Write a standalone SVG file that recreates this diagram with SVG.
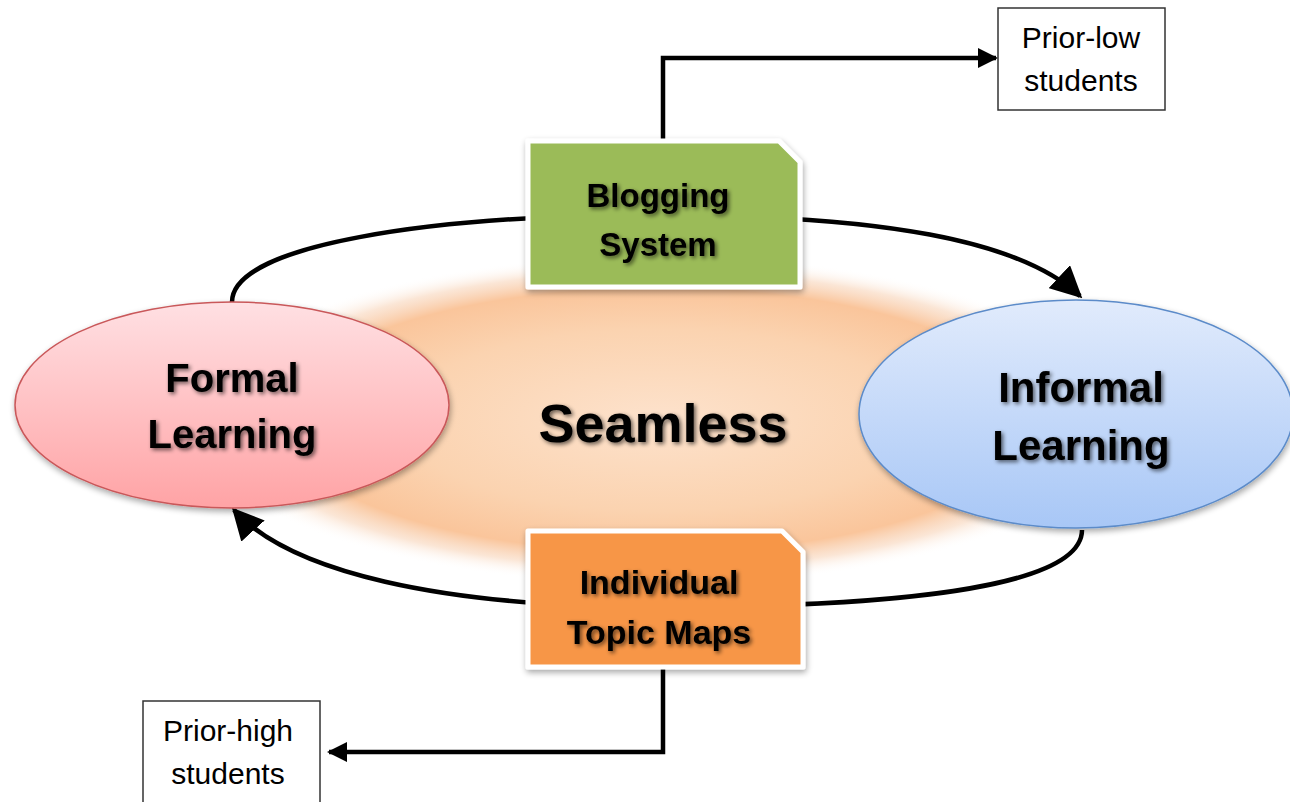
<svg xmlns="http://www.w3.org/2000/svg" width="1290" height="802" viewBox="0 0 1290 802">
<defs>
<style>
.lbl{font-family:"Liberation Sans","Arial",sans-serif;font-weight:bold;fill:#000;text-anchor:middle}
.sm{font-family:"Liberation Sans","Arial",sans-serif;fill:#000;text-anchor:middle;font-size:30px}
.conn{fill:none;stroke:#000;stroke-width:4.5}
.box{fill:#fff;stroke:#333;stroke-width:1.5}
</style>
<marker id="ah" viewBox="0 0 10 10" refX="9" refY="5" markerWidth="7" markerHeight="7" markerUnits="strokeWidth" orient="auto">
<path d="M0,0 L10,5 L0,10 Z" fill="#000"/>
</marker>
<marker id="ahs" viewBox="0 0 10 10" refX="9" refY="5" markerWidth="4.5" markerHeight="4.5" markerUnits="strokeWidth" orient="auto">
<path d="M0,0 L10,5 L0,10 Z" fill="#000"/>
</marker>
<radialGradient id="glow" cx="0.5" cy="0.5" r="0.5">
<stop offset="0" stop-color="#FDE2CC"/>
<stop offset="0.55" stop-color="#FBD3B0"/>
<stop offset="0.8" stop-color="#FAC59B"/>
<stop offset="0.9" stop-color="#F8D5BA" stop-opacity="0.6"/>
<stop offset="1" stop-color="#FFFFFF" stop-opacity="0"/>
</radialGradient>
<linearGradient id="pink" x1="0" y1="0" x2="0" y2="1">
<stop offset="0" stop-color="#FFE0E3"/>
<stop offset="1" stop-color="#FFA3A5"/>
</linearGradient>
<linearGradient id="blue" x1="0" y1="0" x2="0" y2="1">
<stop offset="0" stop-color="#E1EBFC"/>
<stop offset="1" stop-color="#A8C7F6"/>
</linearGradient>
<filter id="ts" x="-20%" y="-30%" width="140%" height="160%">
<feGaussianBlur in="SourceAlpha" stdDeviation="2"/>
<feOffset dx="2" dy="2" result="b"/>
<feComponentTransfer><feFuncA type="linear" slope="0.6"/></feComponentTransfer>
<feMerge><feMergeNode/><feMergeNode in="SourceGraphic"/></feMerge>
</filter>
<filter id="ds" x="-10%" y="-10%" width="120%" height="130%">
<feGaussianBlur in="SourceAlpha" stdDeviation="3"/>
<feOffset dx="1" dy="3"/>
<feComponentTransfer><feFuncA type="linear" slope="0.35"/></feComponentTransfer>
<feMerge><feMergeNode/><feMergeNode in="SourceGraphic"/></feMerge>
</filter>
</defs>
<rect width="1290" height="802" fill="#fff"/>
<ellipse id="glow-bg" cx="658" cy="420" rx="470" ry="165" fill="url(#glow)"/>
<g id="connectors">
<path class="conn" d="M232,302 C232,245 430,215 657,215 C880,215 1020,240 1080,296" marker-end="url(#ah)"/>
<path class="conn" d="M1082,530 C1082,590 880,607 657,607 C440,607 290,572 234,510" marker-end="url(#ah)"/>
<path class="conn" d="M663,140 V58 H996" marker-end="url(#ahs)"/>
<path class="conn" d="M663,668 V752 H329" marker-end="url(#ahs)"/>
</g>
<g id="formal">
<ellipse cx="232" cy="405" rx="217" ry="103" fill="url(#pink)" stroke="#C9585A" stroke-width="1.5" filter="url(#ds)"/>
<g filter="url(#ts)"><text class="lbl" x="232" y="392" font-size="40">Formal</text>
<text class="lbl" x="232" y="448" font-size="40">Learning</text></g>
</g>
<g id="informal">
<ellipse cx="1076" cy="414" rx="217" ry="114" fill="url(#blue)" stroke="#5B8BC9" stroke-width="1.5" filter="url(#ds)"/>
<g filter="url(#ts)"><text class="lbl" x="1081" y="402" font-size="42">Informal</text>
<text class="lbl" x="1081" y="460" font-size="42">Learning</text></g>
</g>
<g id="seamless">
<text class="lbl" x="663" y="442" font-size="54" filter="url(#ts)">Seamless</text>
</g>
<g id="blogging">
<path d="M528,141 H779 L800,162 V287 H528 Z" fill="#9BBB59" stroke="#fff" stroke-width="5" stroke-linejoin="round" filter="url(#ds)"/>
<g filter="url(#ts)"><text class="lbl" x="658" y="207" font-size="33">Blogging</text>
<text class="lbl" x="658" y="256" font-size="33">System</text></g>
</g>
<g id="topicmaps">
<path d="M528,531 H782 L803,552 V667 H528 Z" fill="#F79646" stroke="#fff" stroke-width="5" stroke-linejoin="round" filter="url(#ds)"/>
<g filter="url(#ts)"><text class="lbl" x="659" y="594" font-size="34">Individual</text>
<text class="lbl" x="659" y="644" font-size="34">Topic Maps</text></g>
</g>
<g id="priorlow">
<rect class="box" x="998" y="8" width="167" height="102"/>
<text class="sm" x="1081" y="48">Prior-low</text>
<text class="sm" x="1081" y="91">students</text>
</g>
<g id="priorhigh">
<rect class="box" x="143" y="701" width="177" height="110"/>
<text class="sm" x="228" y="741">Prior-high</text>
<text class="sm" x="228" y="784">students</text>
</g>
</svg>
